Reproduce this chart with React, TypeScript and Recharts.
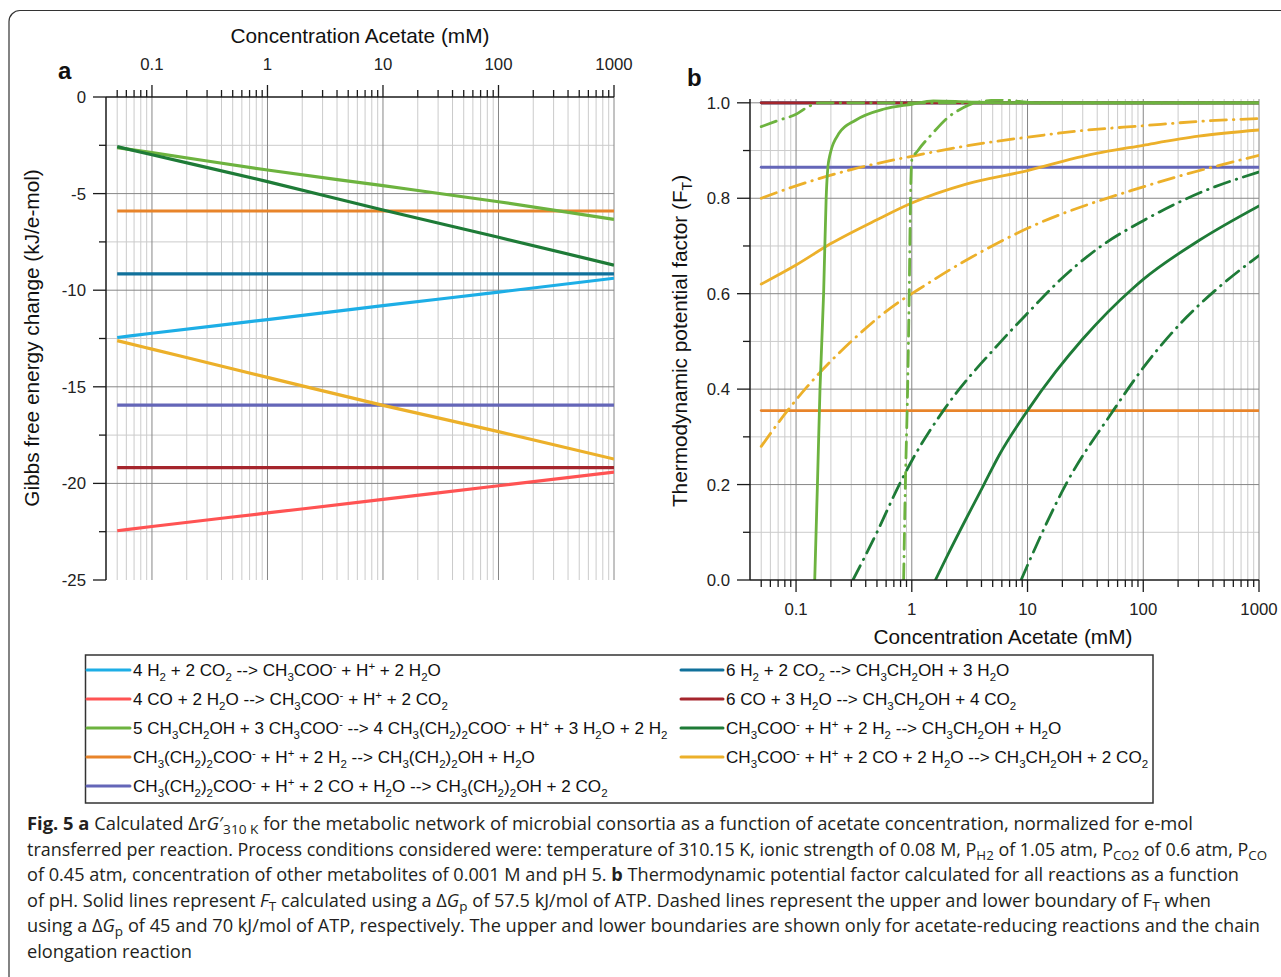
import React from "react";
import { CartesianGrid, Line, LineChart, XAxis, YAxis } from "recharts";

// ---- axis values ----
const majorConc = [0.1, 1, 10, 100, 1000];
const minorConc = [
  0.05, 0.06, 0.07, 0.08, 0.09, 0.2, 0.3, 0.4, 0.5, 0.6, 0.7, 0.8, 0.9, 2, 3, 4, 5, 6, 7, 8, 9,
  20, 30, 40, 50, 60, 70, 80, 90, 200, 300, 400, 500, 600, 700, 800, 900,
];
const allConc = [...minorConc, ...majorConc].sort((a, b) => a - b);

const gibbsTicks = [0, -2.5, -5, -7.5, -10, -12.5, -15, -17.5, -20, -22.5, -25];
const gibbsMajor = [-5, -10, -15, -20];
const gibbsMinor = [-2.5, -7.5, -12.5, -17.5, -22.5];

const ftTicks = [0, 0.1, 0.2, 0.3, 0.4, 0.5, 0.6, 0.7, 0.8, 0.9, 1.0];
const ftMajor = [0.2, 0.4, 0.6, 0.8, 1.0];
const ftMinor = [0.1, 0.3, 0.5, 0.7, 0.9];

// ---- panel a: Gibbs free energy change (kJ/e-mol) ----
const concA = [0.05, 0.1, 1, 10, 100, 1000];
const gH2Acetate = [-12.45, -12.23, -11.52, -10.8, -10.1, -9.38];
const gCOAcetate = [-22.45, -22.23, -21.53, -20.83, -20.12, -19.42];
const gChainElong = [-2.62, -2.88, -3.78, -4.59, -5.42, -6.33];
const gButH2 = [-5.9, -5.9, -5.9, -5.9, -5.9, -5.9];
const gButCO = [-15.95, -15.95, -15.95, -15.95, -15.95, -15.95];
const gH2Ethanol = [-9.16, -9.16, -9.16, -9.16, -9.16, -9.16];
const gCOEthanol = [-19.18, -19.18, -19.18, -19.18, -19.18, -19.18];
const gAcH2 = [-2.57, -2.99, -4.38, -5.85, -7.26, -8.7];
const gAcCO = [-12.61, -13.05, -14.51, -15.96, -17.32, -18.74];

// ---- panel b: thermodynamic potential factor ----
const ftFlatX = [0.05, 1000];
const ftOneY = [1, 1];
const ftButH2Y = [0.355, 0.355];
const ftButCOY = [0.865, 0.865];

const ftChainX = [0.145, 0.153, 0.161, 0.173, 0.182, 0.192, 0.235, 0.324, 0.578, 1, 1.53, 3, 6, 1000];
const ftChainY = [0, 0.2, 0.4, 0.6, 0.8, 0.88, 0.936, 0.963, 0.987, 0.997, 1.004, 1.002, 1.0, 1.0];
const ftChainUpX = [0.05, 0.07, 0.1, 0.13, 0.16, 1000];
const ftChainUpY = [0.95, 0.963, 0.976, 0.993, 1.0, 1.0];
const ftChainLoX = [0.85, 0.88, 0.92, 0.95, 0.975, 1.0, 1.13, 1.5, 2.0, 2.8, 3.5, 6, 12, 1000];
const ftChainLoY = [0, 0.2, 0.4, 0.6, 0.8, 0.88, 0.9, 0.935, 0.967, 0.99, 1.0, 1.006, 1.0, 1.0];

const ftAcCOX = [0.05, 0.1, 0.2, 0.5, 1, 3, 10, 30, 100, 300, 1000];
const ftAcCOY = [0.62, 0.66, 0.705, 0.755, 0.79, 0.83, 0.858, 0.888, 0.911, 0.93, 0.943];
const ftAcCOUpX = [0.05, 0.1, 0.3, 1, 3, 10, 30, 100, 300, 1000];
const ftAcCOUpY = [0.8, 0.826, 0.86, 0.888, 0.91, 0.928, 0.942, 0.952, 0.961, 0.967];
const ftAcCOLoX = [0.05, 0.085, 0.13, 0.3, 0.8, 1, 2.5, 10, 100, 1000];
const ftAcCOLoY = [0.28, 0.356, 0.41, 0.5, 0.585, 0.6, 0.66, 0.737, 0.824, 0.89];

const ftAcH2X = [1.6, 2, 3, 4.2, 5.7, 10, 17.6, 30, 82, 100, 305, 1000];
const ftAcH2Y = [0, 0.048, 0.132, 0.2, 0.262, 0.355, 0.437, 0.505, 0.612, 0.63, 0.712, 0.784];
const ftAcH2UpX = [0.31, 0.5, 0.78, 1, 1.9, 5.7, 10, 18.8, 41.7, 100, 327, 1000];
const ftAcH2UpY = [0, 0.1, 0.2, 0.25, 0.357, 0.496, 0.559, 0.627, 0.697, 0.753, 0.814, 0.855];
const ftAcH2LoX = [8.8, 10.7, 21.4, 54, 100, 235, 424, 1000];
const ftAcH2LoY = [0, 0.047, 0.2, 0.352, 0.445, 0.55, 0.608, 0.68];

// ---- legend ----
const legendLeft = [
  "4 H_2 + 2 CO_2 --> CH_3COO^- + H^+ + 2 H_2O",
  "4 CO + 2 H_2O --> CH_3COO^- + H^+ + 2 CO_2",
  "5 CH_3CH_2OH + 3 CH_3COO^- --> 4 CH_3(CH_2)_2COO^- + H^+ + 3 H_2O + 2 H_2",
  "CH_3(CH_2)_2COO^- + H^+ + 2 H_2 --> CH_3(CH_2)_2OH + H_2O",
  "CH_3(CH_2)_2COO^- + H^+ + 2 CO + H_2O --> CH_3(CH_2)_2OH + 2 CO_2",
];
const legendRight = [
  "6 H_2 + 2 CO_2 --> CH_3CH_2OH + 3 H_2O",
  "6 CO + 3 H_2O --> CH_3CH_2OH + 4 CO_2",
  " CH_3COO^- + H^+ + 2 H_2 --> CH_3CH_2OH + H_2O",
  "CH_3COO^- + H^+ + 2 CO + 2 H_2O --> CH_3CH_2OH + 2 CO_2",
];

const COL = {
  h2Acetate: "#1daee6",
  coAcetate: "#ff5353",
  chainElong: "#6db33f",
  butH2: "#e8842a",
  butCO: "#6466b8",
  h2Ethanol: "#10719b",
  coEthanol: "#a5252c",
  acH2: "#1e7b37",
  acCO: "#ecb02a",
};
const legendLeftColors = [COL.h2Acetate, COL.coAcetate, COL.chainElong, COL.butH2, COL.butCO];
const legendRightColors = [COL.h2Ethanol, COL.coEthanol, COL.acH2, COL.acCO];

// ---- caption ----
type Seg = [string, string?];
const captionLines: Seg[][] = [
  [["Fig. 5", "b"], ["  "], ["a", "b"], [" Calculated \u0394r"], ["G", "i"], ["\u2032"], ["310 K", "sub"],
    [" for the metabolic network of microbial consortia as a function of acetate concentration, normalized for e-mol"]],
  [["transferred per reaction. Process conditions considered were: temperature of 310.15 K, ionic strength of 0.08 M, P"],
    ["H2", "sub"], [" of 1.05 atm, P"], ["CO2", "sub"], [" of 0.6 atm, P"], ["CO", "sub"]],
  [["of 0.45 atm, concentration of other metabolites of 0.001 M and pH 5. "], ["b", "b"],
    [" Thermodynamic potential factor calculated for all reactions as a function"]],
  [["of pH. Solid lines represent "], ["F", "i"], ["T", "sub"], [" calculated using a \u0394"], ["G", "i"], ["p", "sub"],
    [" of 57.5 kJ/mol of ATP. Dashed lines represent the upper and lower boundary of F"], ["T", "sub"], [" when"]],
  [["using a \u0394"], ["G", "i"], ["p", "sub"],
    [" of 45 and 70 kJ/mol of ATP, respectively. The upper and lower boundaries are shown only for acetate-reducing reactions and the chain"]],
  [["elongation reaction"]],
];
const captionEnds = [1193, 1267, 1239, 1211, 1260, 192];

const pts = (xs: number[], ys: number[]) => xs.map((x, i) => ({ x, y: ys[i] }));

const seriesA = [
  { key: "h2Acetate", color: COL.h2Acetate, data: pts(concA, gH2Acetate) },
  { key: "coAcetate", color: COL.coAcetate, data: pts(concA, gCOAcetate) },
  { key: "butH2", color: COL.butH2, data: pts(concA, gButH2) },
  { key: "butCO", color: COL.butCO, data: pts(concA, gButCO) },
  { key: "h2Ethanol", color: COL.h2Ethanol, data: pts(concA, gH2Ethanol) },
  { key: "coEthanol", color: COL.coEthanol, data: pts(concA, gCOEthanol) },
  { key: "chainElong", color: COL.chainElong, data: pts(concA, gChainElong) },
  { key: "acH2", color: COL.acH2, data: pts(concA, gAcH2) },
  { key: "acCO", color: COL.acCO, data: pts(concA, gAcCO) },
];

const DASH = "16 7 0.5 7";
const seriesB = [
  { key: "h2Acetate", color: COL.h2Acetate, data: pts(ftFlatX, ftOneY) },
  { key: "coAcetate", color: COL.coAcetate, data: pts(ftFlatX, ftOneY) },
  { key: "h2Ethanol", color: COL.h2Ethanol, data: pts(ftFlatX, ftOneY) },
  { key: "coEthanol", color: COL.coEthanol, data: pts(ftFlatX, ftOneY) },
  { key: "butH2", color: COL.butH2, data: pts(ftFlatX, ftButH2Y) },
  { key: "butCO", color: COL.butCO, data: pts(ftFlatX, ftButCOY) },
  { key: "acCOLo", color: COL.acCO, dash: DASH, data: pts(ftAcCOLoX, ftAcCOLoY) },
  { key: "acCOUp", color: COL.acCO, dash: DASH, data: pts(ftAcCOUpX, ftAcCOUpY) },
  { key: "acCO", color: COL.acCO, data: pts(ftAcCOX, ftAcCOY) },
  { key: "acH2Lo", color: COL.acH2, dash: DASH, data: pts(ftAcH2LoX, ftAcH2LoY) },
  { key: "acH2Up", color: COL.acH2, dash: DASH, data: pts(ftAcH2UpX, ftAcH2UpY) },
  { key: "acH2", color: COL.acH2, data: pts(ftAcH2X, ftAcH2Y) },
  { key: "chainLo", color: COL.chainElong, dash: DASH, data: pts(ftChainLoX, ftChainLoY) },
  { key: "chainUp", color: COL.chainElong, dash: DASH, data: pts(ftChainUpX, ftChainUpY) },
  { key: "chain", color: COL.chainElong, data: pts(ftChainX, ftChainY) },
];

const FONT = "'Liberation Sans', Arial, sans-serif";
const GRID_MINOR = "#cbcbcb";
const GRID_MAJOR = "#868686";
const AXIS = "#1a1a1a";
const TICK_FS = 16.8;
const TITLE_FS = 20.8;

const fmtConc = (v: number) => (v < 1 ? v.toFixed(1) : String(v));

const TopTick = ({ x, y, payload }: any) => {
  const major = majorConc.includes(payload.value);
  return (
    <g>
      <line x1={x} x2={x} y1={y} y2={y - (major ? 12 : 7)} stroke={AXIS} strokeWidth={1.3} />
      {major && (
        <text x={x} y={y - 27} textAnchor="middle" fontSize={TICK_FS} fontFamily={FONT} fill="#222">
          {fmtConc(payload.value)}
        </text>
      )}
    </g>
  );
};

const BottomTick = ({ x, y, payload }: any) => {
  const major = majorConc.includes(payload.value);
  return (
    <g>
      <line x1={x} x2={x} y1={y} y2={y + (major ? 12 : 7)} stroke={AXIS} strokeWidth={1.3} />
      {major && (
        <text x={x} y={y + 35} textAnchor="middle" fontSize={TICK_FS} fontFamily={FONT} fill="#222">
          {fmtConc(payload.value)}
        </text>
      )}
    </g>
  );
};

const GibbsTick = ({ x, y, payload }: any) => {
  const major = payload.value % 5 === 0;
  return (
    <g>
      <line x1={x} x2={x - (major ? 13 : 7)} y1={y} y2={y} stroke={AXIS} strokeWidth={1.3} />
      {major && (
        <text x={x - 20} y={y + 6} textAnchor="end" fontSize={TICK_FS} fontFamily={FONT} fill="#222">
          {payload.value}
        </text>
      )}
    </g>
  );
};

const FtTick = ({ x, y, payload }: any) => {
  const major = Math.round(payload.value * 10) % 2 === 0;
  return (
    <g>
      <line x1={x} x2={x - (major ? 13 : 7)} y1={y} y2={y} stroke={AXIS} strokeWidth={1.3} />
      {major && (
        <text x={x - 20} y={y + 6} textAnchor="end" fontSize={TICK_FS} fontFamily={FONT} fill="#222">
          {payload.value.toFixed(1)}
        </text>
      )}
    </g>
  );
};

const chem = (src: string, sub: number) => {
  const parts: { t: string; k: string }[] = [];
  for (let i = 0; i < src.length; i++) {
    const c = src[i];
    if ((c === "_" || c === "^") && i + 1 < src.length) {
      parts.push({ t: src[i + 1], k: c === "_" ? "sub" : "sup" });
      i++;
    } else {
      const last = parts[parts.length - 1];
      if (last && last.k === "n") last.t += c;
      else parts.push({ t: c, k: "n" });
    }
  }
  let shift = 0;
  return parts.map((p, i) => {
    const target = p.k === "sub" ? 4.5 : p.k === "sup" ? -6 : 0;
    const dy = target - shift;
    shift = target;
    return (
      <tspan key={i} dy={dy} fontSize={p.k === "n" ? undefined : sub}>
        {p.t}
      </tspan>
    );
  });
};

const captionSpans = (segs: Seg[]) => {
  let shift = 0;
  return segs.map(([t, k], i) => {
    const target = k === "sub" ? 4 : 0;
    const dy = target - shift;
    shift = target;
    return (
      <tspan
        key={i}
        dy={dy}
        fontWeight={k === "b" ? 700 : undefined}
        fontStyle={k === "i" ? "italic" : undefined}
        fontSize={k === "sub" ? 13 : undefined}
      >
        {t}
      </tspan>
    );
  });
};

const PanelA = () => (
  <LineChart width={640} height={620} margin={{ top: 57, right: 26, bottom: 40, left: 46 }}>
    <CartesianGrid horizontalValues={gibbsMinor} verticalValues={minorConc} stroke={GRID_MINOR} />
    <CartesianGrid horizontalValues={gibbsMajor} verticalValues={majorConc} stroke={GRID_MAJOR} />
    <XAxis
      orientation="top"
      type="number"
      dataKey="x"
      scale="log"
      domain={[0.04, 1000]}
      allowDataOverflow
      ticks={allConc}
      interval={0}
      tick={TopTick}
      tickLine={false}
      tickSize={0}
      tickMargin={0}
      height={40}
      axisLine={{ stroke: AXIS, strokeWidth: 1.5 }}
    />
    <YAxis
      type="number"
      domain={[-25, 0]}
      allowDataOverflow
      ticks={gibbsTicks}
      interval={0}
      tick={GibbsTick}
      tickLine={false}
      tickSize={0}
      tickMargin={0}
      width={60}
      axisLine={{ stroke: AXIS, strokeWidth: 1.5 }}
    />
    {seriesA.map((s) => (
      <Line
        key={s.key}
        data={s.data}
        dataKey="y"
        type="monotone"
        stroke={s.color}
        strokeWidth={3.2}
        dot={false}
        activeDot={false}
        isAnimationActive={false}
      />
    ))}
  </LineChart>
);

const PanelB = () => (
  <LineChart width={641} height={660} margin={{ top: 99, right: 22, bottom: 20, left: 50 }}>
    <CartesianGrid horizontalValues={ftMinor} verticalValues={minorConc} stroke={GRID_MINOR} />
    <CartesianGrid horizontalValues={ftMajor} verticalValues={majorConc} stroke={GRID_MAJOR} />
    <XAxis
      orientation="bottom"
      type="number"
      dataKey="x"
      scale="log"
      domain={[0.04, 1000]}
      allowDataOverflow
      ticks={allConc}
      interval={0}
      tick={BottomTick}
      tickLine={false}
      tickSize={0}
      tickMargin={0}
      height={60}
      axisLine={{ stroke: AXIS, strokeWidth: 1.5 }}
    />
    <YAxis
      type="number"
      domain={[0, 1.008]}
      allowDataOverflow
      ticks={ftTicks}
      interval={0}
      tick={FtTick}
      tickLine={false}
      tickSize={0}
      tickMargin={0}
      width={60}
      axisLine={{ stroke: AXIS, strokeWidth: 1.5 }}
    />
    {seriesB.map((s) => (
      <Line
        key={s.key}
        data={s.data}
        dataKey="y"
        type="monotone"
        stroke={s.color}
        strokeWidth={2.8}
        strokeDasharray={s.dash}
        strokeLinecap="round"
        dot={false}
        activeDot={false}
        isAnimationActive={false}
      />
    ))}
  </LineChart>
);

const Overlay = () => (
  <svg width={1281} height={977} style={{ position: "absolute", left: 0, top: 0 }}>
    <rect x={9} y={10.5} width={1400} height={1200} rx={11} fill="none" stroke="#333" strokeWidth={1.2} />

    <g fontFamily={FONT} fill="#111">
      <text x={58} y={79} fontSize={24} fontWeight={700}>a</text>
      <text x={687} y={86} fontSize={24} fontWeight={700}>b</text>
      <text x={360} y={43} fontSize={TITLE_FS} textAnchor="middle">Concentration Acetate (mM)</text>
      <text x={1003} y={644} fontSize={TITLE_FS} textAnchor="middle">Concentration Acetate (mM)</text>
      <text x={39} y={338} fontSize={TITLE_FS} textAnchor="middle" transform="rotate(-90 39 338)">
        Gibbs free energy change (kJ/e-mol)
      </text>
      <text x={687} y={341} fontSize={TITLE_FS} textAnchor="middle" transform="rotate(-90 687 341)" style={{ whiteSpace: "pre" }}>
        {chem("Thermodynamic potential factor (F_T)", 14)}
      </text>
    </g>

    <rect x={85.5} y={655} width={1067.5} height={148} fill="none" stroke="#333" strokeWidth={1.5} />
    <g fontFamily={FONT} fontSize={17.1} fill="#111" style={{ whiteSpace: "pre" }}>
      {legendLeft.map((f, i) => (
        <g key={f}>
          <line x1={87} x2={130} y1={670 + i * 29} y2={670 + i * 29} stroke={legendLeftColors[i]} strokeWidth={3} strokeLinecap="round" />
          <text x={133} y={676 + i * 29}>{chem(f, 11.5)}</text>
        </g>
      ))}
      {legendRight.map((f, i) => (
        <g key={f}>
          <line x1={681} x2={723} y1={670 + i * 29} y2={670 + i * 29} stroke={legendRightColors[i]} strokeWidth={3} strokeLinecap="round" />
          <text x={726} y={676 + i * 29}>{chem(f, 11.5)}</text>
        </g>
      ))}
    </g>

    <g fontFamily="'Open Sans', 'Noto Sans', sans-serif" fontSize={17.5} fill="#231f20" style={{ whiteSpace: "pre" }}>
      {captionLines.map((segs, i) => (
        <text key={i} x={27} y={830 + i * 25.6} textLength={captionEnds[i] - 27} lengthAdjust="spacingAndGlyphs">
          {captionSpans(segs)}
        </text>
      ))}
    </g>
  </svg>
);

export default function App() {
  return (
    <div style={{ position: "absolute", left: 0, top: 0, width: 1281, height: 977, background: "#fff", overflow: "hidden" }}>
      <Overlay />
      <div style={{ position: "absolute", left: 0, top: 0 }}>
        <PanelA />
      </div>
      <div style={{ position: "absolute", left: 640, top: 0 }}>
        <PanelB />
      </div>
    </div>
  );
}
